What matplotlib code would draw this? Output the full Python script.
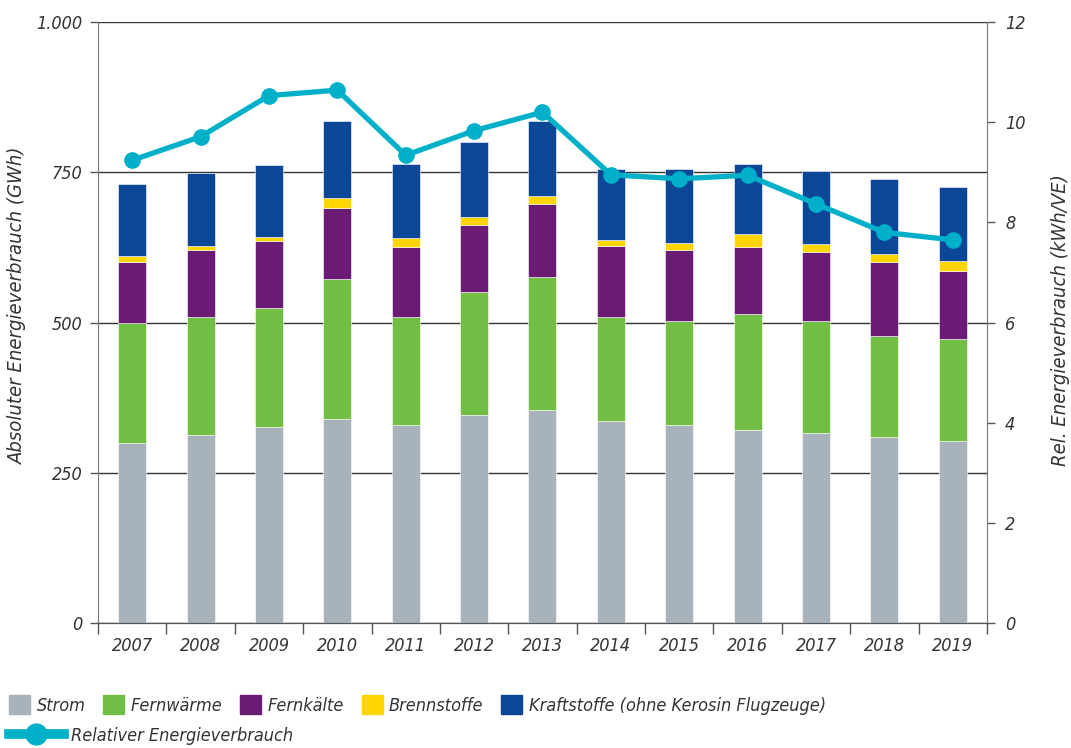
import matplotlib.pyplot as plt
import matplotlib.patches as mpatches
from matplotlib.lines import Line2D
from matplotlib.ticker import FuncFormatter
import numpy as np

# data
years = ['2007', '2008', '2009', '2010', '2011', '2012', '2013',
         '2014', '2015', '2016', '2017', '2018', '2019']
strom = [300, 313, 326, 339, 329, 346, 355, 336, 329, 322, 317, 310, 303]
fernwaerme = [199, 196, 199, 234, 180, 205, 221, 173, 173, 193, 185, 167, 170]
fernkaelte = [102, 112, 111, 118, 117, 111, 122, 118, 119, 111, 115, 124, 112]
brennstoffe = [10, 6, 7, 16, 14, 14, 12, 10, 12, 21, 14, 13, 17]
kraftstoffe = [119, 122, 119, 128, 124, 124, 125, 118, 122, 117, 121, 125, 124]
relativ = [9.24, 9.71, 10.53, 10.64, 9.34, 9.83, 10.20, 8.95, 8.87, 8.94, 8.37, 7.80, 7.65]

series = [('Strom', strom, '#a8b2bb'),
          ('Fernwärme', fernwaerme, '#72be44'),
          ('Fernkälte', fernkaelte, '#6a1b73'),
          ('Brennstoffe', brennstoffe, '#ffd500'),
          ('Kraftstoffe (ohne Kerosin Flugzeuge)', kraftstoffe, '#0b4796')]
LINE_COLOR = '#00b0c8'
TXT = '#333333'

plt.rcParams['font.family'] = ['DejaVu Sans']
plt.rcParams['font.style'] = 'italic'
plt.rcParams['font.stretch'] = 'condensed'
FS = 13

fig = plt.figure(figsize=(10.71, 7.48), dpi=100)
ax = fig.add_axes([0.0915, 0.167, 0.83, 0.8036])
ax2 = ax.twinx()

x = np.arange(len(years))
bottom = np.zeros(len(years))
for name, vals, col in series:
    ax.bar(x, vals, width=0.41, bottom=bottom, color=col, edgecolor='#ffffff',
           linewidth=0.4, zorder=3)
    bottom += np.array(vals)

ax2.plot(x, relativ, color=LINE_COLOR, lw=3.8, marker='o', ms=11, zorder=5)

ax.set_xlim(-0.5, len(years) - 0.5)
ax.set_ylim(0, 1000)
ax2.set_ylim(0, 12)
ax.set_yticks([0, 250, 500, 750, 1000])
ax.yaxis.set_major_formatter(FuncFormatter(lambda v, p: f'{int(v):,}'.replace(',', '.')))
ax2.set_yticks([0, 2, 4, 6, 8, 10, 12])
ax.grid(axis='y', color='#333333', lw=1.0, zorder=0)

ax.set_xticks(x)
ax.set_xticklabels(years)
ax.set_xticks(np.arange(-0.5, len(years), 1), minor=True)
ax.tick_params(axis='x', which='major', length=0, pad=10, labelsize=FS, labelcolor=TXT)
ax.tick_params(axis='x', which='minor', length=8, width=1, color='#555555', direction='out')
ax.tick_params(axis='y', length=6, width=1, color='#555555', labelsize=FS, labelcolor=TXT, pad=5)
ax2.tick_params(axis='y', length=6, width=1, color='#555555', labelsize=FS, labelcolor=TXT, pad=7)

for a in (ax, ax2):
    a.spines['top'].set_visible(False)
    a.spines['left'].set_color('#777777')
    a.spines['right'].set_color('#777777')
    a.spines['bottom'].set_color('#555555')
ax2.spines['left'].set_visible(False)
ax.spines['right'].set_visible(False)

ax.set_ylabel('Absoluter Energieverbrauch (GWh)', fontsize=14.5, color=TXT, va='center')
ax.yaxis.set_label_coords(-0.0905, 0.529)
ax2.set_ylabel('Rel. Energieverbrauch (kWh/VE)', fontsize=14.5, color=TXT, va='center')
ax2.yaxis.set_label_coords(1.083, 0.504)

handles = [mpatches.Patch(color=c, label=n) for n, v, c in series]
fig.legend(handles=handles, loc='upper left', bbox_to_anchor=(0.002, 0.08),
           ncol=5, frameon=False, fontsize=FS, handlelength=1.15, handleheight=1.25,
           handletextpad=0.35, columnspacing=1.0, borderaxespad=0, labelcolor=TXT)
line_h = Line2D([], [], color=LINE_COLOR, lw=7, marker='o', ms=15)
fig.legend(handles=[line_h], labels=['Relativer Energieverbrauch'], loc='upper left',
           bbox_to_anchor=(0.002, 0.038), frameon=False, fontsize=FS, handlelength=3.0,
           handletextpad=0.4, borderaxespad=0, labelcolor=TXT)

fig.savefig('out.png', dpi=100)
